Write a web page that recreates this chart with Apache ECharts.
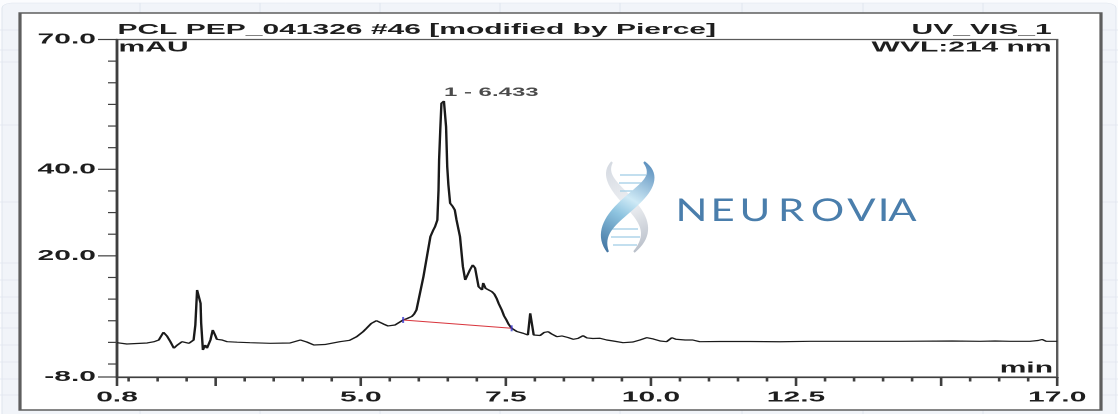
<!DOCTYPE html>
<html><head><meta charset="utf-8">
<script src="https://cdn.jsdelivr.net/npm/echarts@6/dist/echarts.min.js"></script>
<style>
html,body{margin:0;padding:0;width:1118px;height:414px;overflow:hidden;background:#fbfcfe;}
#chart{width:559px;height:414px;transform:scaleX(2);transform-origin:0 0;}
</style></head><body><div id="chart"></div>
<script>
// ---- data (retention time in min, absorbance in mAU) ----
const retentionTimes = [0.80,0.97,1.14,1.32,1.44,1.52,1.60,1.66,1.72,1.78,
  1.83,1.92,2.04,2.12,2.15,2.18,2.23,2.24,2.25,2.28,
  2.29,2.32,2.35,2.41,2.45,2.49,2.52,2.61,2.70,2.87,
  3.09,3.44,3.78,3.96,4.07,4.19,4.38,4.64,4.81,4.93,
  5.04,5.10,5.18,5.27,5.33,5.39,5.47,5.53,5.59,5.65,
  5.73,5.80,5.88,5.92,5.96,6.02,6.08,6.15,6.20,6.25,
  6.28,6.32,6.34,6.35,6.37,6.39,6.433,6.45,6.47,6.49,
  6.51,6.54,6.58,6.62,6.65,6.71,6.76,6.80,6.84,6.88,
  6.93,6.97,7.03,7.09,7.11,7.14,7.15,7.19,7.26,7.30,
  7.34,7.38,7.43,7.47,7.51,7.55,7.60,7.69,7.80,7.88,
  7.92,7.97,7.98,8.02,8.09,8.16,8.23,8.29,8.38,8.47,
  8.57,8.66,8.74,8.83,8.90,9.00,9.12,9.24,9.35,9.52,
  9.69,9.81,9.93,10.04,10.16,10.27,10.36,10.43,10.59,10.72,
  10.84,11.19,11.71,12.22,12.74,13.43,14.29,15.19,15.67,15.93,
  16.19,16.53,16.67,16.74,16.81,17.00];
const absorbance = [-0.07,-0.37,-0.25,-0.14,0.16,0.55,2.33,1.48,0.16,-1.36,
  -0.72,0.16,-0.21,0.55,4.02,12.11,12.11,9.04,4.48,-1.76,
  -2.15,-0.60,-1.36,0.55,2.87,1.71,0.72,0.55,0.16,0.05,
  -0.07,-0.21,-0.14,0.55,0.09,-0.60,-0.49,0.16,0.49,1.32,
  2.47,3.26,4.37,5.02,4.71,4.25,3.79,3.63,4.02,4.41,
  5.18,5.52,5.99,6.56,7.49,11.35,15.18,20.59,24.43,25.98,
  26.74,28.29,35.22,42.15,49.09,55.26,55.79,55.33,49.85,40.60,
  36.40,32.15,31.50,30.60,28.29,24.43,17.49,14.42,14.88,16.73,
  17.89,17.19,12.87,12.11,13.73,14.03,12.50,12.34,11.72,11.19,
  10.19,8.87,7.49,6.10,5.18,4.14,3.26,2.52,2.10,1.71,
  6.73,6.73,1.71,1.48,1.59,2.29,2.47,1.94,1.32,1.48,
  1.13,0.72,0.90,1.55,1.02,0.90,0.95,0.55,0.32,-0.07,
  0.09,0.55,1.09,0.79,0.32,0.16,1.09,0.72,0.55,0.55,
  0.16,0.20,0.20,0.14,0.25,0.25,0.25,0.32,0.25,0.32,
  0.25,0.25,0.44,0.67,0.25,0.25];
const peakIds = ['1'];
const peakTimes = [6.433];
const peakHeights = [55.79];
const integrationTimes = [5.73, 7.60];
const integrationValues = [5.18, 3.26];
const xTickLabels = [0.8, 5.0, 7.5, 10.0, 12.5, 17.0];
const xMajorTicks = [0.8, 2.5, 5.0, 7.5, 10.0, 12.5, 15.0, 17.0];
const xMinorTicks = [1.0,1.5,2.0,3.0,3.5,4.0,4.5,5.5,6.0,6.5,7.0,8.0,8.5,9.0,9.5,10.5,11.0,11.5,12.0,13.0,13.5,14.0,14.5,15.5,16.0,16.5];
const yTickLabels = [-8, 20, 40, 70];
const yMinorTicks = [-5, 0, 5, 10, 15, 25, 30, 35, 45, 50, 55, 60, 65];
const titleLeft = 'PCL PEP_041326 #46 [modified by Pierce]';
const titleRight = 'UV_VIS_1';
const yUnit = 'mAU';
const wavelength = 'WVL:214 nm';
const xUnit = 'min';

// ---- build ----
const FONT = '"Liberation Sans", Arial, sans-serif';
const AX = '#3f3f3f';
const X_MIN = 0.8, X_MAX = 17, Y_MIN = -8, Y_MAX = 70;
const trace = retentionTimes.map((t, i) => [t, absorbance[i]]);
const baseline = integrationTimes.map((t, i) => [t, integrationValues[i]]);
const peaks = peakTimes.map((t, i) => ({ value: [t, peakHeights[i]], name: peakIds[i] }));

function ribbon(p, w0, w1) {
  const a = [], b = [];
  for (let i = 0; i <= 40; i++) {
    const t = i / 40, m = 1 - t;
    const x = m*m*m*p[0][0] + 3*m*m*t*p[1][0] + 3*m*t*t*p[2][0] + t*t*t*p[3][0];
    const y = m*m*m*p[0][1] + 3*m*m*t*p[1][1] + 3*m*t*t*p[2][1] + t*t*t*p[3][1];
    const dx = 3*m*m*(p[1][0]-p[0][0]) + 6*m*t*(p[2][0]-p[1][0]) + 3*t*t*(p[3][0]-p[2][0]);
    const dy = 3*m*m*(p[1][1]-p[0][1]) + 6*m*t*(p[2][1]-p[1][1]) + 3*t*t*(p[3][1]-p[2][1]);
    const l = Math.hypot(dx, dy) || 1, nx = -dy / l, ny = dx / l;
    const w = (w0 + w1 * Math.sin(Math.PI * t)) / 2;
    a.push([x + nx*w, y + ny*w]); b.push([x - nx*w, y - ny*w]);
  }
  return a.concat(b.reverse());
}

const bg = [];
bg.push({ type: 'rect', z: -20, shape: { x: 1, y: 3, width: 557, height: 420, r: 5 }, style: { fill: '#f1f4f9', stroke: '#dfe5ee', lineWidth: 0.5 } });
[70, 130, 190, 250, 310, 371, 431.5, 491.5].forEach(x => bg.push({ type: 'line', z: -19, shape: { x1: x, y1: 3, x2: x, y2: 414 }, style: { stroke: '#e0e6ef', lineWidth: 0.5 } }));
[30, 50, 62, 125, 202, 263, 280, 297, 313, 328, 345, 362, 379, 395].forEach(y => bg.push({ type: 'line', z: -19, shape: { x1: 0, y1: y, x2: 559, y2: y }, style: { stroke: '#e0e6ef', lineWidth: 0.8 } }));
bg.push({ type: 'rect', z: -10, shape: { x: 10, y: 13, width: 540.5, height: 397 }, style: { fill: '#ffffff', stroke: '#5e5e5e', lineWidth: 1.6 } });

const txt = (text, x, y, align, size) => ({ type: 'text', z: 10, x, y,
  style: { text, font: 'bold ' + (size || 15) + 'px ' + FONT, fill: '#1e1e1e', textAlign: align, textVerticalAlign: 'middle' } });

const letters = [['N', 691.5], ['E', 722.5], ['U', 755], ['R', 791], ['O', 827.5], ['V', 861.5], ['I', 883.5], ['A', 902.5]];
const logo = {
  type: 'group', x: 0, y: 0, scaleX: 0.5, z: 5,
  children: [
    { type: 'polygon', shape: { points: ribbon([[612,162],[592,190],[672,214],[634,252]], 2, 9) },
      style: { fill: new echarts.graphic.LinearGradient(0, 0, 1, 1, [{ offset: 0, color: '#d4d9e1' }, { offset: 0.5, color: '#eef0f3' }, { offset: 1, color: '#b3bac5' }]) } },
    ...[[175, 620, 646], [183, 619, 649], [191, 620, 647], [229, 612, 638], [237, 611, 640], [245, 613, 637]].map(r => ({
      type: 'line', shape: { x1: r[1], y1: r[0], x2: r[2], y2: r[0] }, style: { stroke: '#a9d2e8', lineWidth: 1.4 } })),
    { type: 'polygon', shape: { points: ribbon([[644,162],[674,192],[586,212],[608,252]], 2, 13) },
      style: { fill: new echarts.graphic.LinearGradient(1, 0, 0, 1, [{ offset: 0, color: '#4f86b8' }, { offset: 0.42, color: '#cfeaf6' }, { offset: 0.6, color: '#8ec4e0' }, { offset: 1, color: '#3c6e9d' }]) } },
    ...letters.map(l => ({ type: 'text', x: l[1], y: 211, scaleX: 1.35,
      style: { text: l[0], font: 'normal 31px Lato, "Open Sans", sans-serif', fill: '#4a7eac', textAlign: 'center', textVerticalAlign: 'middle' } }))
  ]
};

// tick marks drawn through the axes' own scales
function xTickSeries(name, values, len) {
  return { name, type: 'custom', data: values.map(v => [v, Y_MIN]), clip: false, z: 6, silent: true,
    renderItem: (params, api) => {
      const p = api.coord([api.value(0), api.value(1)]);
      return { type: 'line', shape: { x1: p[0], y1: p[1], x2: p[0], y2: p[1] + len }, style: { stroke: AX, lineWidth: 1.3 } };
    } };
}
function yTickSeries(name, values, len) {
  return { name, type: 'custom', data: values.map(v => [X_MIN, v]), clip: false, z: 6, silent: true,
    renderItem: (params, api) => {
      const p = api.coord([api.value(0), api.value(1)]);
      return { type: 'line', shape: { x1: p[0] - len, y1: p[1], x2: p[0], y2: p[1] }, style: { stroke: AX, lineWidth: 1.2 } };
    } };
}

const chart = echarts.init(document.getElementById('chart'), null, { renderer: 'canvas', devicePixelRatio: 2, width: 559, height: 414 });
const axLabel = { fontSize: 15, fontWeight: 'bold', fontFamily: FONT, color: '#1e1e1e', formatter: v => Number(v).toFixed(1), showMinLabel: true, showMaxLabel: true };
chart.setOption({
  animation: false,
  backgroundColor: 'transparent',
  grid: { left: 58.5, right: 30.4, top: 39.5, bottom: 37, show: true, borderColor: '#5a5a5a', borderWidth: 1.2, backgroundColor: 'transparent' },
  xAxis: { type: 'value', min: X_MIN, max: X_MAX, position: 'bottom',
    axisLine: { show: true, onZero: false, lineStyle: { color: AX, width: 1.3 } },
    axisTick: { show: false },
    axisLabel: Object.assign({ customValues: xTickLabels, margin: 13 }, axLabel),
    splitLine: { show: false } },
  yAxis: { type: 'value', min: Y_MIN, max: Y_MAX, position: 'left',
    axisLine: { show: true, onZero: false, lineStyle: { color: AX, width: 1.3 } },
    axisTick: { show: false },
    axisLabel: Object.assign({ customValues: yTickLabels, margin: 10.5 }, axLabel),
    splitLine: { show: false } },
  series: [
    xTickSeries('xMajorTicks', xMajorTicks, 9),
    xTickSeries('xMinorTicks', xMinorTicks, 4.5),
    yTickSeries('yMajorTicks', yTickLabels, 9.5),
    yTickSeries('yMinorTicks', yMinorTicks, 4.5),
    { name: 'UV_VIS_1', type: 'line', data: trace, showSymbol: false, symbol: 'none', smooth: false,
      lineStyle: { color: '#1a1a1a', width: 1.2 }, z: 3 },
    { name: 'baseline', type: 'line', data: baseline, symbol: 'none', lineStyle: { color: '#d9363e', width: 1 }, z: 4 },
    { name: 'delimiters', type: 'scatter', data: baseline, symbol: 'rect', symbolSize: [1, 6], itemStyle: { color: '#3a3ad0' }, z: 5 },
    { name: 'peaks', type: 'scatter', data: peaks, symbolSize: 0, z: 6,
      label: { show: true, position: [0, -8.5], align: 'left', verticalAlign: 'middle',
        formatter: p => p.name + ' - ' + p.value[0].toFixed(3),
        fontSize: 12, fontWeight: 'bold', fontFamily: FONT, color: '#1e1e1e' } }
  ],
  graphic: [
    ...bg,
    txt(titleLeft, 58.7, 30, 'left'),
    txt(titleRight, 525.8, 30, 'right'),
    txt(yUnit, 59.3, 47.5, 'left'),
    txt(wavelength, 525.8, 47.5, 'right'),
    txt(xUnit, 526.5, 368.5, 'right'),
    logo
  ]
});
</script></body></html>
